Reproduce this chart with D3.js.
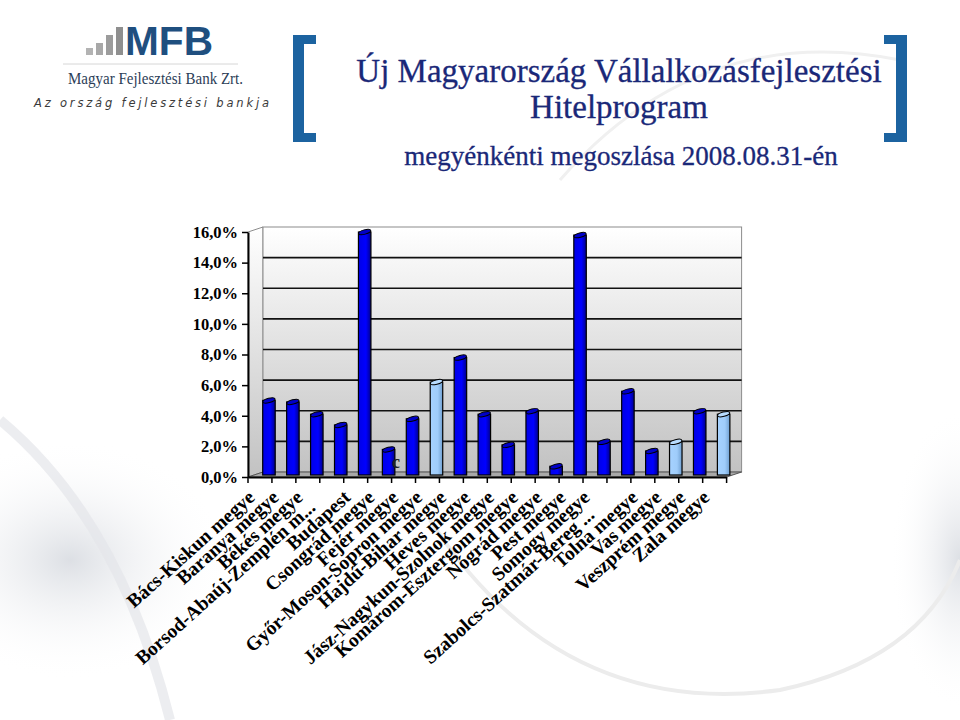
<!DOCTYPE html>
<html>
<head>
<meta charset="utf-8">
<script src="https://cdn.jsdelivr.net/npm/d3@7/dist/d3.min.js"></script>
<style>
  html, body { margin: 0; padding: 0; background: #ffffff; }
  svg { display: block; }
</style>
</head>
<body>
<svg id="chart" width="960" height="720"></svg>
<script>
// ---------- data ----------
const categories = [
  "Bács-Kiskun megye", "Baranya megye", "Békés megye", "Borsod-Abaúj-Zemplén m...",
  "Budapest", "Csongrád megye", "Fejér megye", "Győr-Moson-Sopron megye",
  "Hajdú-Bihar megye", "Heves megye", "Jász-Nagykun-Szolnok megye", "Komárom-Esztergom megye",
  "Nógrád megye", "Pest megye", "Somogy megye", "Szabolcs-Szatmár-Bereg ...",
  "Tolna megye", "Vas megye", "Veszprém megye", "Zala megye"
];
const shares = [5.0, 4.9, 4.1, 3.4, 16.0, 1.8, 3.8, 6.2, 7.8, 4.1, 2.1, 4.3, 0.7, 15.8, 2.3, 5.6, 1.7, 2.3, 4.3, 4.1];
const lightBars = ["Győr-Moson-Sopron megye", "Vas megye", "Zala megye"];
const yTicks = [0, 2, 4, 6, 8, 10, 12, 14, 16];
const yTickLabels = ["0,0%", "2,0%", "4,0%", "6,0%", "8,0%", "10,0%", "12,0%", "14,0%", "16,0%"];
const titleLines = ["Új Magyarország Vállalkozásfejlesztési", "Hitelprogram"];
const subtitle = "megyénkénti megoszlása 2008.08.31-én";

// ---------- setup ----------
const svg = d3.select("#chart");
const defs = svg.append("defs");

const wallGrad = defs.append("linearGradient").attr("id", "wall")
  .attr("x1", 0).attr("y1", 0).attr("x2", 0).attr("y2", 1);
wallGrad.append("stop").attr("offset", "0%").attr("stop-color", "#ffffff");
wallGrad.append("stop").attr("offset", "100%").attr("stop-color", "#c2c2c2");

const blueGrad = defs.append("linearGradient").attr("id", "blueBar")
  .attr("x1", 0).attr("y1", 0).attr("x2", 1).attr("y2", 0);
blueGrad.append("stop").attr("offset", "0%").attr("stop-color", "#0000e6");
blueGrad.append("stop").attr("offset", "60%").attr("stop-color", "#0000ff");
blueGrad.append("stop").attr("offset", "100%").attr("stop-color", "#00008a");

const lightGrad = defs.append("linearGradient").attr("id", "lightBar")
  .attr("x1", 0).attr("y1", 0).attr("x2", 1).attr("y2", 0);
lightGrad.append("stop").attr("offset", "0%").attr("stop-color", "#a6d2ff");
lightGrad.append("stop").attr("offset", "60%").attr("stop-color", "#9fccfa");
lightGrad.append("stop").attr("offset", "100%").attr("stop-color", "#6f9fd0");

const swL = defs.append("radialGradient").attr("id", "swL")
  .attr("cx", 0.5).attr("cy", 0.5).attr("r", 0.5);
swL.append("stop").attr("offset", "0%").attr("stop-color", "#cfd3da").attr("stop-opacity", 0.9);
swL.append("stop").attr("offset", "100%").attr("stop-color", "#ffffff").attr("stop-opacity", 0);

// ---------- background swooshes ----------
const bg = svg.append("g");
bg.append("rect").attr("width", 960).attr("height", 720).attr("fill", "#ffffff");
bg.append("ellipse").attr("cx", 70).attr("cy", 560).attr("rx", 160).attr("ry", 120)
  .attr("fill", "url(#swL)").attr("opacity", 0.8);
bg.append("ellipse").attr("cx", 960).attr("cy", 560).attr("rx", 70).attr("ry", 150)
  .attr("fill", "url(#swL)").attr("opacity", 0.8);
bg.append("path")
  .attr("d", "M 430 520 Q 560 720 780 690 Q 920 660 960 560")
  .attr("fill", "none").attr("stroke", "#ececec").attr("stroke-width", 4);
bg.append("path")
  .attr("d", "M 0 420 Q 120 520 170 720")
  .attr("fill", "none").attr("stroke", "#e4e6ea").attr("stroke-width", 10).attr("opacity", 0.7);
bg.append("path")
  .attr("d", "M 560 180 Q 700 20 900 60")
  .attr("fill", "none").attr("stroke", "#f0f0f0").attr("stroke-width", 3);

// ---------- logo ----------
const logo = svg.append("g");
const logoBars = [[86, 7, "#b3b3b3"], [96, 12, "#a8a8a8"], [106, 20, "#9c9c9c"], [116, 28, "#8f8f8f"]];
logo.selectAll("rect.lb").data(logoBars).join("rect").attr("class", "lb")
  .attr("x", d => d[0]).attr("y", d => 55 - d[1]).attr("width", 7).attr("height", d => d[1])
  .attr("fill", d => d[2]);
logo.append("text").attr("x", 125).attr("y", 55)
  .attr("font-family", "Liberation Sans, Arial, sans-serif").attr("font-weight", "bold")
  .attr("font-size", 41).attr("fill", "#1f4f7f").attr("textLength", 88).attr("lengthAdjust", "spacingAndGlyphs")
  .text("MFB");
logo.append("line").attr("x1", 63).attr("x2", 238).attr("y1", 64).attr("y2", 64)
  .attr("stroke", "#d6d6d6").attr("stroke-width", 1);
logo.append("text").attr("x", 68).attr("y", 84)
  .attr("font-family", "Liberation Serif, Times New Roman, serif")
  .attr("font-size", 17).attr("fill", "#2c3e57").attr("textLength", 175).attr("lengthAdjust", "spacingAndGlyphs")
  .text("Magyar Fejlesztési Bank Zrt.");
logo.append("text").attr("x", 34).attr("y", 107)
  .attr("font-family", "DejaVu Sans, sans-serif").attr("font-style", "italic")
  .attr("font-size", 11.5).attr("fill", "#3a3a3a").attr("textLength", 235).attr("lengthAdjust", "spacing")
  .text("Az ország fejlesztési bankja");

// ---------- brackets ----------
const br = svg.append("g").attr("fill", "#1c63a0");
br.append("rect").attr("x", 293).attr("y", 35).attr("width", 11).attr("height", 107);
br.append("rect").attr("x", 293).attr("y", 35).attr("width", 23).attr("height", 9);
br.append("rect").attr("x", 293).attr("y", 133).attr("width", 23).attr("height", 9);
br.append("rect").attr("x", 896).attr("y", 35).attr("width", 11).attr("height", 107);
br.append("rect").attr("x", 884).attr("y", 35).attr("width", 23).attr("height", 9);
br.append("rect").attr("x", 884).attr("y", 133).attr("width", 23).attr("height", 9);

// ---------- titles ----------
const tg = svg.append("g").attr("font-family", "Liberation Serif, Times New Roman, serif")
  .attr("fill", "#1a2878").attr("text-anchor", "middle");
tg.selectAll("text.t").data(titleLines).join("text").attr("class", "t")
  .attr("x", 619).attr("y", (d, i) => 82 + i * 36).attr("font-size", 33)
  .attr("stroke", "#1a2878").attr("stroke-width", 0.3).text(d => d);
tg.append("text").attr("x", 621).attr("y", 165).attr("font-size", 27)
  .attr("stroke", "#1a2878").attr("stroke-width", 0.3).text(subtitle);

// ---------- chart ----------
const X0 = 248, X1 = 248 + 20 * 23.93;
const DX = 15, DY = -5;
const x = d3.scaleBand().domain(categories).range([X0, X1]).paddingInner(0).paddingOuter(0);
const y = d3.scaleLinear().domain([0, 16]).range([477, 232]);
const chart = svg.append("g");

// side wall
chart.append("polygon")
  .attr("points", [[X0, y(16)], [X0 + DX, y(16) + DY], [X0 + DX, y(0) + DY], [X0, y(0)]].map(p => p.join(",")).join(" "))
  .attr("fill", "url(#wall)").attr("stroke", "#8c8c8c").attr("stroke-width", 1);
// back wall
chart.append("rect").attr("x", X0 + DX).attr("y", y(16) + DY)
  .attr("width", X1 - X0).attr("height", y(0) - y(16))
  .attr("fill", "url(#wall)").attr("stroke", "#8c8c8c").attr("stroke-width", 1);
// floor
chart.append("polygon")
  .attr("points", [[X0, y(0)], [X0 + DX, y(0) + DY], [X1 + DX, y(0) + DY], [X1, y(0)]].map(p => p.join(",")).join(" "))
  .attr("fill", "#a9a9a9").attr("stroke", "#555").attr("stroke-width", 1);
// gridlines on back wall
chart.selectAll("line.grid").data(yTicks.filter(v => v > 0 && v < 16)).join("line").attr("class", "grid")
  .attr("x1", X0 + DX).attr("x2", X1 + DX)
  .attr("y1", d => y(d) + DY).attr("y2", d => y(d) + DY)
  .attr("stroke", "#111").attr("stroke-width", 1.6);

// bars
const bw = 12.5, shift = 9, barBase = y(0) - 2;
const bars = chart.selectAll("g.bar").data(categories).join("g").attr("class", "bar");
bars.append("rect")
  .attr("x", d => x(d) + x.bandwidth() / 2 + shift - bw / 2)
  .attr("y", (d, i) => y(shares[i]))
  .attr("width", bw)
  .attr("height", (d, i) => barBase - y(shares[i]))
  .attr("fill", d => lightBars.includes(d) ? "url(#lightBar)" : "url(#blueBar)")
  .attr("stroke", "#000").attr("stroke-width", 1.2);
bars.append("ellipse")
  .attr("cx", d => x(d) + x.bandwidth() / 2 + shift)
  .attr("cy", (d, i) => y(shares[i]))
  .attr("rx", bw / 2).attr("ry", 2.2)
  .attr("transform", (d, i) => `rotate(-14, ${x(d) + x.bandwidth() / 2 + shift}, ${y(shares[i])})`)
  .attr("fill", d => lightBars.includes(d) ? "#b8dcff" : "#0000c8")
  .attr("stroke", "#000").attr("stroke-width", 1);

// stray label from original
chart.append("text").attr("x", 392).attr("y", 468)
  .attr("font-family", "Liberation Serif, serif").attr("font-weight", "bold").attr("font-size", 18)
  .attr("fill", "#222").text("c");

// y axis
const yAxis = d3.axisLeft(y).tickValues(yTicks).tickSizeInner(6).tickSizeOuter(0)
  .tickFormat((d, i) => yTickLabels[i]);
const yg = chart.append("g").attr("transform", `translate(${X0},0)`).call(yAxis);
yg.select(".domain").attr("stroke", "#000").attr("stroke-width", 2);
yg.selectAll(".tick line").attr("stroke", "#000").attr("stroke-width", 1.5);
yg.selectAll(".tick text").attr("x", -10)
  .attr("font-family", "Liberation Serif, Times New Roman, serif").attr("font-weight", "bold")
  .attr("font-size", 16.5).attr("fill", "#000");

// x axis
const xAxis = d3.axisBottom(x).tickSize(0).tickFormat("");
const xg = chart.append("g").attr("transform", `translate(0,${y(0)})`).call(xAxis);
xg.select(".domain").attr("stroke", "#000").attr("stroke-width", 2);
const boundaries = categories.map(c => x(c)).concat([x(categories[categories.length - 1]) + x.bandwidth()]);
chart.selectAll("line.xt").data(boundaries).join("line").attr("class", "xt")
  .attr("x1", d => d).attr("x2", d => d).attr("y1", y(0)).attr("y2", y(0) + 6)
  .attr("stroke", "#000").attr("stroke-width", 1.5);

// x labels
const labelBack = d => d.endsWith("...") ? (d.startsWith("Szab") ? 26 : 15) : 0;
chart.selectAll("text.xl").data(categories).join("text").attr("class", "xl")
  .attr("transform", d => {
    const cx = x(d) + x.bandwidth() / 2 - 4;
    return `translate(${cx},${499}) rotate(-42)`;
  })
  .attr("x", d => -labelBack(d))
  .attr("text-anchor", "end")
  .attr("font-family", "Liberation Serif, Times New Roman, serif").attr("font-weight", "bold")
  .attr("font-size", 19.5).attr("fill", "#000")
  .text(d => d);
</script>
</body>
</html>
